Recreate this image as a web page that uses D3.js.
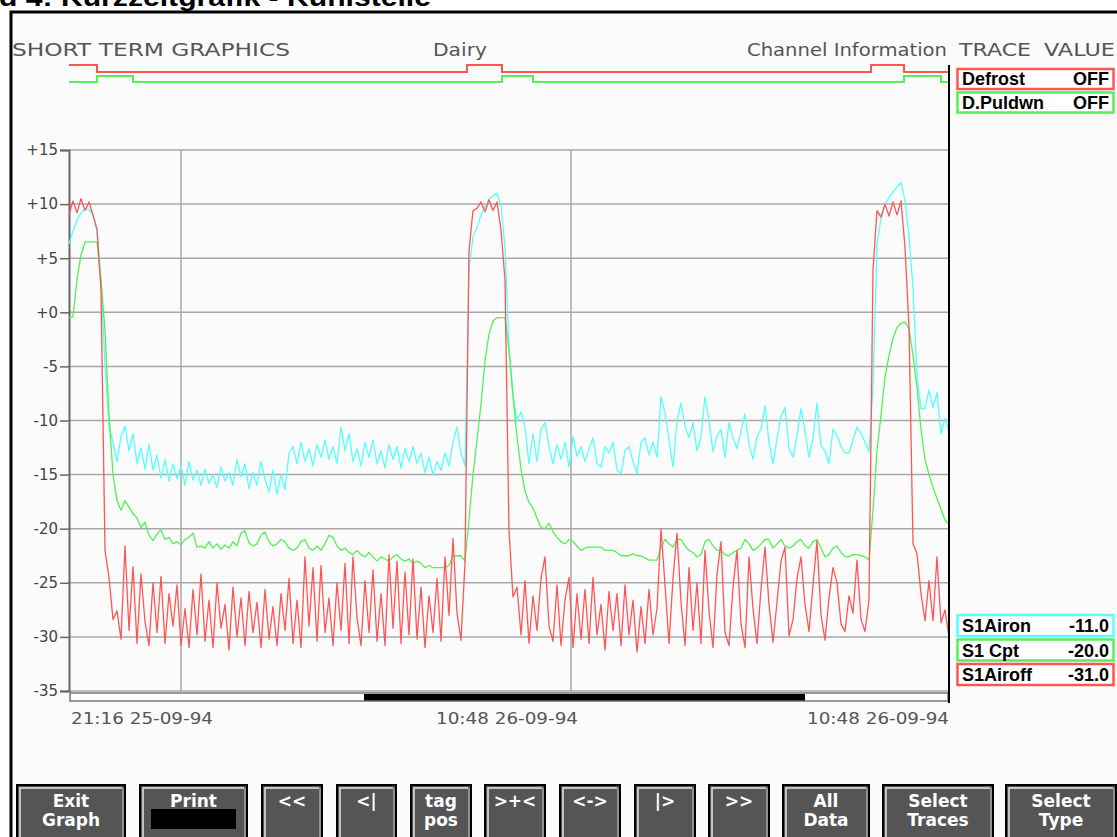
<!DOCTYPE html>
<html>
<head>
<meta charset="utf-8">
<title>Kurzzeitgrafik - Kühlstelle</title>
<script src="https://d3js.org/d3.v7.min.js"></script>
<style>
html, body { margin: 0; padding: 0; background: #fff; overflow: hidden; }
svg { display: block; }
</style>
</head>
<body>
<svg id="chart" width="1117" height="837"></svg>
<script>
// one sample every 4 px of screen time, 221 samples per trace
const airon = [
  6.3, 7.5, 8.5, 9.2, 9.6, 9.5, 9.0, 7.8, 3.0, -5.0,
  -10.5, -12.0, -13.8, -11.5, -10.5, -12.8, -11.2, -14.0, -12.5, -14.5,
  -12.2, -14.6, -13.2, -15.3, -13.6, -15.6, -14.0, -15.4, -14.2, -16.0,
  -13.8, -15.5, -14.6, -16.0, -14.5, -15.8, -15.0, -16.2, -14.3, -15.6,
  -14.8, -16.0, -13.6, -15.2, -14.0, -16.3, -14.8, -16.0, -13.8, -15.4,
  -16.6, -14.6, -16.8, -15.0, -16.4, -13.0, -12.4, -14.0, -12.0, -13.8,
  -12.6, -14.2, -12.2, -13.4, -11.8, -13.6, -12.4, -14.0, -10.6, -12.8,
  -11.2, -13.8, -12.6, -14.2, -12.0, -13.4, -11.8, -14.0, -12.8, -14.4,
  -12.2, -13.6, -12.4, -14.4, -12.6, -13.8, -12.4, -14.0, -13.0, -14.8,
  -13.4, -15.0, -13.8, -14.6, -13.0, -14.2, -12.0, -10.6, -13.0, -14.2,
  4.0, 7.0, 7.8, 9.0, 9.8, 10.4, 10.8, 11.0, 9.8, 6.0,
  -3.0, -7.5, -10.0, -9.2, -10.6, -14.0, -11.2, -13.8, -10.8, -10.2,
  -12.4, -14.0, -12.2, -13.6, -12.0, -14.3, -11.5, -13.3, -12.4, -13.8,
  -12.6, -11.6, -14.0, -14.3, -12.4, -13.0, -12.0, -14.6, -14.9, -12.8,
  -12.4, -13.8, -14.9, -12.0, -11.6, -13.2, -12.0, -13.4, -7.8, -9.3,
  -11.8, -14.3, -10.0, -8.4, -10.5, -11.6, -10.2, -12.8, -11.6, -7.8,
  -10.0, -12.9, -11.4, -10.8, -13.4, -10.2, -11.6, -12.6, -11.0, -9.4,
  -12.2, -13.6, -11.5, -10.8, -8.6, -12.0, -14.0, -11.7, -9.6, -8.8,
  -12.6, -13.4, -11.4, -8.9, -11.0, -13.4, -11.6, -8.4, -12.3, -12.8,
  -14.0, -10.8, -11.4, -12.4, -13.0, -13.0, -11.8, -10.6, -11.2, -12.0,
  -12.9, -7.0, 6.4, 8.6, 10.0, 10.6, 11.1, 11.6, 12.0, 10.3,
  7.0, 2.3, -6.0, -8.9, -8.9, -7.2, -8.8, -7.4, -11.2, -9.8,
  -11.0
];

const cpt = [
  -0.5, -0.4, 3.0, 5.3, 6.5, 6.5, 6.5, 6.5, 3.0, -1.7,
  -9.5, -15.0, -17.4, -18.3, -17.4, -18.0, -18.6, -19.0, -19.9, -19.4,
  -20.6, -21.1, -20.5, -20.1, -21.0, -20.8, -21.4, -21.2, -21.5, -21.0,
  -20.8, -20.4, -21.7, -21.6, -21.8, -21.2, -21.8, -21.4, -21.9, -21.5,
  -21.8, -21.2, -21.6, -20.4, -20.2, -21.3, -21.6, -21.4, -20.6, -20.3,
  -21.2, -21.6, -21.4, -21.0, -21.2, -21.8, -22.0, -21.8, -21.2, -21.0,
  -21.8, -22.0, -21.6, -22.0, -21.4, -20.6, -20.8, -21.6, -22.0, -21.8,
  -22.2, -22.4, -22.0, -22.4, -22.6, -22.2, -22.6, -23.0, -22.6, -22.8,
  -23.0, -22.6, -22.4, -22.8, -23.0, -22.8, -23.2, -23.0, -23.2, -23.6,
  -23.4, -23.6, -23.6, -23.6, -23.6, -23.4, -22.5, -22.5, -22.5, -23.0,
  -19.2, -15.0, -11.8, -8.5, -4.5, -2.0, -0.8, -0.5, -0.5, -0.5,
  -3.5, -7.8, -11.5, -14.5, -16.5, -17.6, -18.1, -19.0, -19.9, -20.0,
  -19.5, -20.3, -20.8, -21.2, -21.4, -21.0, -21.2, -21.6, -22.0, -21.8,
  -21.7, -21.7, -21.7, -21.7, -22.0, -22.0, -22.0, -22.2, -22.5, -22.5,
  -22.5, -22.3, -22.5, -22.5, -22.7, -22.9, -22.9, -22.9, -21.7, -21.0,
  -21.4, -21.7, -21.0, -21.0, -21.6, -22.0, -22.2, -22.6, -22.4, -21.2,
  -21.0, -21.6, -22.0, -22.0, -22.4, -22.5, -22.2, -22.0, -21.8, -21.0,
  -21.4, -22.0, -21.8, -21.4, -21.0, -21.0, -21.8, -21.4, -21.0, -21.6,
  -21.8, -21.6, -21.2, -21.0, -21.6, -21.8, -21.2, -21.0, -21.8, -22.6,
  -22.4, -21.8, -21.6, -22.2, -22.6, -22.6, -22.4, -22.4, -22.5, -22.6,
  -22.9, -18.3, -12.8, -9.5, -6.0, -4.0, -2.4, -1.4, -1.0, -0.9,
  -1.5, -4.0, -7.0, -10.8, -13.6, -15.0, -16.2, -17.2, -18.2, -19.2,
  -19.6
];

const airoff = [
  9.0, 10.3, 9.2, 10.5, 9.4, 10.2, 9.0, 7.6, 2.0, -22.0,
  -24.5, -28.4, -27.6, -30.2, -21.6, -29.4, -23.5, -30.6, -24.2, -28.6,
  -30.8, -25.0, -29.6, -24.4, -30.6, -26.0, -29.0, -25.2, -30.8, -27.4,
  -31.0, -25.6, -29.8, -24.2, -30.4, -26.6, -31.0, -25.0, -29.2, -27.0,
  -31.2, -25.4, -30.0, -26.4, -30.8, -25.8, -29.6, -26.8, -31.0, -25.6,
  -30.2, -27.2, -30.8, -26.0, -29.4, -24.6, -30.6, -26.6, -31.0, -22.6,
  -29.0, -23.6, -30.4, -23.4, -29.6, -26.4, -30.8, -25.0, -29.4, -23.2,
  -30.6, -22.6, -28.2, -30.8, -24.8, -29.6, -23.8, -30.4, -26.0, -30.8,
  -22.4, -29.2, -23.0, -30.6, -24.0, -29.8, -22.8, -30.2, -25.4, -31.0,
  -26.2, -29.6, -24.6, -30.4, -22.6, -28.0, -20.9, -27.8, -30.3, -23.2,
  5.7, 9.4, 9.6, 10.2, 9.3, 10.4, 9.4, 10.2, 7.6, 3.0,
  -20.2, -26.3, -25.4, -29.8, -24.8, -30.6, -26.2, -29.4, -24.6, -22.6,
  -29.0, -30.4, -25.2, -30.8, -26.6, -24.5, -31.0, -26.0, -30.2, -25.6,
  -30.6, -24.5, -29.8, -27.0, -31.2, -25.8, -29.4, -26.0, -30.8, -25.2,
  -29.8, -26.6, -31.4, -27.2, -30.6, -25.6, -29.8, -27.4, -20.0, -25.2,
  -30.6, -24.6, -20.4, -26.8, -30.8, -23.6, -29.4, -25.0, -30.6, -22.0,
  -27.6, -31.0, -24.2, -21.2, -29.6, -30.8, -25.4, -22.0, -28.8, -31.0,
  -22.6, -27.4, -30.6, -25.6, -21.7, -27.0, -30.5, -26.8, -23.0, -21.7,
  -29.9, -28.4, -24.6, -22.6, -27.0, -29.5, -25.2, -21.1, -28.0, -30.3,
  -26.4, -23.6, -25.0, -28.8, -29.5, -26.2, -27.8, -22.9, -28.4, -29.5,
  -26.6, 3.9, 9.4, 8.8, 10.0, 8.9, 10.2, 9.0, 10.3, 6.0,
  -1.4, -21.4, -22.3, -26.0, -28.5, -24.8, -28.5, -22.6, -28.7, -27.5,
  -30.0
];

// digital channels: sample ranges where the state is ON
const defrostOn = [[0, 7], [99.5, 108.25], [200.5, 208.75]];
const puldwnOn = [[7, 16], [108.25, 116], [208.75, 218]];

const yTicks = [15, 10, 5, 0, -5, -10, -15, -20, -25, -30, -35];
const timeGrid = [28, 125.5];
const dateLabels = ["21:16 25-09-94", "10:48 26-09-94", "10:48 26-09-94"];
const scrollThumb = [73.75, 184];

const digitalLegend = [
  {name: "Defrost", value: "OFF"},
  {name: "D.Puldwn", value: "OFF"}
];
const traceLegend = [
  {name: "S1Airon", value: "-11.0"},
  {name: "S1 Cpt", value: "-20.0"},
  {name: "S1Airoff", value: "-31.0"}
];
const buttonLabels = [
  ["Exit", "Graph"], ["Print"], ["<<"], ["<|"], ["tag", "pos"], [">+<"],
  ["<->"], ["|>"], [">>"], ["All", "Data"], ["Select", "Traces"], ["Select", "Type"]
];

const RED = "#ff5555", GREEN = "#55f055", CYAN = "#55ffff";

const svg = d3.select("#chart");

// page title (cut at top) and the window frame
svg.append("text")
    .attr("x", -1).attr("y", 6)
    .attr("font-family", "Liberation Sans, Arial, sans-serif")
    .attr("font-weight", "bold").attr("font-size", 26)
    .attr("textLength", 432).attr("lengthAdjust", "spacingAndGlyphs")
    .text("d 4: Kurzzeitgrafik - Kühlstelle");

svg.append("rect")
    .attr("x", 11).attr("y", 12).attr("width", 1120).attr("height", 840)
    .attr("fill", "#fbfbfb").attr("stroke", "#000").attr("stroke-width", 3);

const x = d3.scaleLinear().domain([0, airon.length - 1]).range([69, 949]);
const y = d3.scaleLinear().domain([-35, 15]).range([691, 150]);

function header(txt, x0, len, anchor) {
  svg.append("text")
      .attr("x", x0).attr("y", 56)
      .attr("text-anchor", anchor || "start")
      .attr("font-family", "DejaVu Sans, sans-serif").attr("font-size", 17)
      .attr("fill", "#555")
      .attr("textLength", len).attr("lengthAdjust", "spacingAndGlyphs")
      .text(txt);
}
header("SHORT TERM GRAPHICS", 12, 278);
header("Dairy", 433, 54);
header("Channel Information", 747, 200);
header("TRACE", 959, 72);
header("VALUE", 1044, 71);

// grid
const grid = svg.append("g").attr("stroke", "#a8a8a8").attr("stroke-width", 1.5);
grid.selectAll("line.h").data(yTicks).enter().append("line")
    .attr("class", "h")
    .attr("x1", x(0)).attr("x2", x(airon.length - 1))
    .attr("y1", d => y(d)).attr("y2", d => y(d));
grid.selectAll("line.v").data(timeGrid).enter().append("line")
    .attr("class", "v")
    .attr("x1", d => x(d)).attr("x2", d => x(d))
    .attr("y1", y(15)).attr("y2", y(-35));

// y axis
const yAxis = d3.axisLeft(y)
    .tickValues(yTicks)
    .tickSize(9)
    .tickPadding(2)
    .tickFormat(d => (d >= 0 ? "+" : "") + d);
const yAxisG = svg.append("g")
    .attr("transform", `translate(${x(0)},0)`)
    .call(yAxis);
yAxisG.select(".domain").attr("stroke", "#666").attr("stroke-width", 2);
yAxisG.selectAll(".tick line").attr("stroke", "#666").attr("stroke-width", 1.5);
yAxisG.selectAll(".tick text")
    .attr("font-family", "DejaVu Sans, sans-serif").attr("font-size", 15)
    .attr("fill", "#444");

// scroll bar under the plot
svg.append("rect")
    .attr("x", x(0) + 1).attr("y", 693).attr("width", x(airon.length - 1) - x(0) - 2).attr("height", 8)
    .attr("fill", "#fff").attr("stroke", "#777").attr("stroke-width", 1.5);
svg.append("rect")
    .attr("x", x(scrollThumb[0])).attr("y", 694).attr("width", x(scrollThumb[1]) - x(scrollThumb[0])).attr("height", 6.5)
    .attr("fill", "#000");

// date labels
const dateAnchors = [["start", x(0) + 2], ["middle", 507], ["end", x(airon.length - 1)]];
svg.selectAll("text.date").data(dateLabels).enter().append("text")
    .attr("class", "date")
    .attr("x", (d, i) => dateAnchors[i][1]).attr("y", 724)
    .attr("text-anchor", (d, i) => dateAnchors[i][0])
    .attr("font-family", "DejaVu Sans, sans-serif").attr("font-size", 16)
    .attr("fill", "#555")
    .attr("textLength", 142).attr("lengthAdjust", "spacingAndGlyphs")
    .text(d => d);

// analog traces
const trace = d3.line()
    .x((d, i) => x(i))
    .y(d => y(d));

[[airon, CYAN], [cpt, GREEN], [airoff, RED]].forEach(([data, color]) => {
  svg.append("path")
      .attr("d", trace(data))
      .attr("fill", "none").attr("stroke", color).attr("stroke-width", 1.3)
      .attr("stroke-linejoin", "round");
});

// digital traces at the top
function steps(intervals) {
  const pts = [];
  if (intervals[0][0] > 0) pts.push([0, 0]);
  intervals.forEach(([a, b]) => { pts.push([a, 1]); pts.push([b, 0]); });
  pts.push([airon.length - 1, 0]);
  return pts;
}
const digital = [
  [defrostOn, RED, d3.scaleLinear().domain([0, 1]).range([72, 65])],
  [puldwnOn, GREEN, d3.scaleLinear().domain([0, 1]).range([82, 76])]
];
digital.forEach(([intervals, color, ys]) => {
  const line = d3.line().x(d => x(d[0])).y(d => ys(d[1])).curve(d3.curveStepAfter);
  svg.append("path")
      .attr("d", line(steps(intervals)))
      .attr("fill", "none").attr("stroke", color).attr("stroke-width", 2);
});

// right border of plot
svg.append("line")
    .attr("x1", 949).attr("x2", 949).attr("y1", 65).attr("y2", 703)
    .attr("stroke", "#000").attr("stroke-width", 2);

// legend boxes
function legend(items, colors, top, gap, h) {
  items.forEach((d, i) => {
    const y0 = top + i * gap;
    svg.append("rect")
        .attr("x", 957.5).attr("y", y0).attr("width", 156).attr("height", h)
        .attr("fill", "#fff").attr("stroke", colors[i]).attr("stroke-width", 2.5);
    svg.append("text")
        .attr("x", 962).attr("y", y0 + h - 4)
        .attr("font-family", "Liberation Sans, Arial, sans-serif")
        .attr("font-weight", "bold").attr("font-size", 18)
        .text(d.name);
    svg.append("text")
        .attr("x", 1109).attr("y", y0 + h - 4)
        .attr("text-anchor", "end")
        .attr("font-family", "Liberation Sans, Arial, sans-serif")
        .attr("font-weight", "bold").attr("font-size", 18)
        .text(d.value);
  });
}
legend(digitalLegend, [RED, GREEN], 69, 23.5, 20);
legend(traceLegend, [CYAN, GREEN, RED], 615, 24.5, 21);

// button bar
const buttonBoxes = [[17, 125], [140, 247], [262, 322], [337, 396], [411, 471], [485, 545],
                     [560, 620], [635, 695], [709, 769], [783, 869], [883, 993], [1006, 1116]];
buttonLabels.forEach((lines, i) => {
  const [x0, x1] = buttonBoxes[i];
  const g = svg.append("g");
  g.append("rect")
      .attr("x", x0).attr("y", 785).attr("width", x1 - x0).attr("height", 60)
      .attr("fill", "#555").attr("stroke", "#000").attr("stroke-width", 2);
  g.append("path")
      .attr("d", `M${x0 + 3},840V788H${x1 - 3}`)
      .attr("fill", "none").attr("stroke", "#e8e8e8").attr("stroke-width", 1.5);
  g.append("path")
      .attr("d", `M${x1 - 2},788V840`)
      .attr("fill", "none").attr("stroke", "#ccc").attr("stroke-width", 1);
  lines.forEach((t, k) => {
    g.append("text")
        .attr("x", (x0 + x1) / 2).attr("y", 807 + k * 19)
        .attr("text-anchor", "middle")
        .attr("font-family", "DejaVu Sans, sans-serif").attr("font-weight", "bold")
        .attr("font-size", 17).attr("fill", "#fff")
        .text(t);
  });
  if (lines[0] === "Print") {
    g.append("rect")
        .attr("x", x0 + 11).attr("y", 809).attr("width", x1 - x0 - 22).attr("height", 20)
        .attr("fill", "#000");
  }
});
</script>
</body>
</html>
